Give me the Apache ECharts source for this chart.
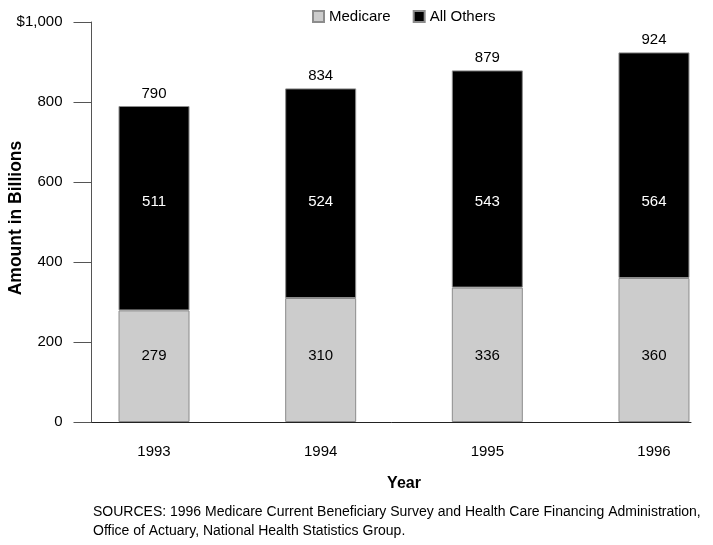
<!DOCTYPE html>
<html>
<head>
<meta charset="utf-8">
<script src="https://cdn.jsdelivr.net/npm/echarts@6/dist/echarts.min.js"></script>
<style>
html,body{margin:0;padding:0;background:#fff;}
#chart{width:713px;height:545px;}
</style>
</head>
<body>
<div id="chart"></div>
<script>
var yearLabels = ['1993', '1994', '1995', '1996'];
var medicare = [279, 310, 336, 360];
var allOthers = [511, 524, 543, 564];
var totals = [790, 834, 879, 924];
var yTicks = [0, 200, 400, 600, 800, 1000];
var seriesNames = ['Medicare', 'All Others'];
var sourceNote = 'SOURCES: 1996 Medicare Current Beneficiary Survey and Health Care Financing Administration,\nOffice of Actuary, National Health Statistics Group.';

// value levels (in axis units) at which the segment labels sit in the original
var medicareLabelLevel = 165;
var othersLabelLevel = 551;

var FONT = '"Liberation Sans", Arial, Helvetica, sans-serif';

var chart = echarts.init(document.getElementById('chart'), null, { renderer: 'canvas' });

function segLabelLayout(values, bases, level) {
  return function (p) {
    var i = p.dataIndex;
    var r = p.rect;
    var v = values[i];
    if (!r || !v) return {};
    var scale = r.height / v;
    var bottom = r.y + r.height;
    return { x: r.x + r.width / 2, y: bottom - (level - bases[i]) * scale, align: 'center', verticalAlign: 'middle' };
  };
}
var zeros = medicare.map(function () { return 0; });

chart.setOption({
  animation: false,
  backgroundColor: '#ffffff',
  textStyle: { fontFamily: FONT },
  title: {
    text: sourceNote,
    left: 88,
    top: 498,
    textStyle: { fontFamily: FONT, fontSize: 14, fontWeight: 'normal', color: '#000', lineHeight: 19 }
  },
  legend: {
    data: seriesNames,
    top: 9,
    left: 312,
    padding: 0,
    icon: 'rect',
    itemWidth: 11,
    itemHeight: 11,
    itemGap: 22,
    textStyle: { fontFamily: FONT, fontSize: 15, color: '#000' }
  },
  grid: [
    { left: 70.7, right: -24.3, top: 22, bottom: 123, outerBoundsMode: 'none', containLabel: false },
    { left: 91.5, right: 22, top: 22, bottom: 123, outerBoundsMode: 'none', containLabel: false }
  ],
  xAxis: [
    {
      type: 'category',
      gridIndex: 0,
      data: yearLabels,
      name: 'Year',
      nameLocation: 'middle',
      nameGap: 54,
      nameTextStyle: { fontFamily: FONT, fontSize: 16, fontWeight: 'bold', color: '#000' },
      axisLine: { show: false },
      axisTick: { show: false },
      splitLine: { show: false },
      axisLabel: { fontFamily: FONT, fontSize: 15, color: '#000', margin: 22 }
    },
    {
      type: 'value',
      gridIndex: 1,
      min: 0,
      max: 1,
      axisLine: { show: true, lineStyle: { color: '#222', width: 1 } },
      axisTick: { show: false },
      axisLabel: { show: false },
      splitLine: { show: false }
    }
  ],
  yAxis: [
    {
      type: 'value',
      gridIndex: 0,
      min: 0,
      max: 1000,
      interval: 200,
      offset: -20.8,
      name: 'Amount in Billions',
      nameLocation: 'middle',
      nameGap: 66,
      nameRotate: 90,
      nameMoveOverlap: false,
      nameTextStyle: { fontFamily: FONT, fontSize: 17.5, fontWeight: 'bold', color: '#000', padding: [0, 0, 0, 8] },
      axisLine: { show: true, lineStyle: { color: '#555', width: 1 } },
      axisTick: { show: true, inside: false, length: 18, lineStyle: { color: '#555' } },
      splitLine: { show: false },
      axisLabel: {
        fontFamily: FONT, fontSize: 15, color: '#000', margin: 29,
        formatter: function (v) { return v === yTicks[yTicks.length - 1] ? '$1,000' : String(v); }
      }
    },
    {
      type: 'value',
      gridIndex: 1,
      show: false,
      min: 0,
      max: 1
    }
  ],
  series: [
    {
      name: seriesNames[0],
      type: 'bar',
      stack: 'total',
      barWidth: 71,
      data: medicare,
      itemStyle: { color: '#cccccc', borderColor: '#8c8c8c', borderWidth: 1 },
      label: { show: true, position: 'inside', color: '#000', fontFamily: FONT, fontSize: 15 },
      labelLayout: segLabelLayout(medicare, zeros, medicareLabelLevel)
    },
    {
      name: seriesNames[1],
      type: 'bar',
      stack: 'total',
      barWidth: 71,
      data: allOthers,
      itemStyle: { color: '#000000', borderColor: '#8c8c8c', borderWidth: 1 },
      label: { show: true, position: 'inside', color: '#fff', fontFamily: FONT, fontSize: 15 },
      labelLayout: segLabelLayout(allOthers, medicare, othersLabelLevel)
    },
    {
      name: 'Total',
      type: 'line',
      data: totals,
      symbol: 'circle',
      symbolSize: 2,
      showSymbol: true,
      itemStyle: { color: 'rgba(0,0,0,0)', borderWidth: 0 },
      lineStyle: { width: 0, color: 'rgba(0,0,0,0)' },
      silent: true,
      z: 5,
      label: { show: true, position: 'top', distance: 4, color: '#000', fontFamily: FONT, fontSize: 15 }
    }
  ]
});
</script>
</body>
</html>
